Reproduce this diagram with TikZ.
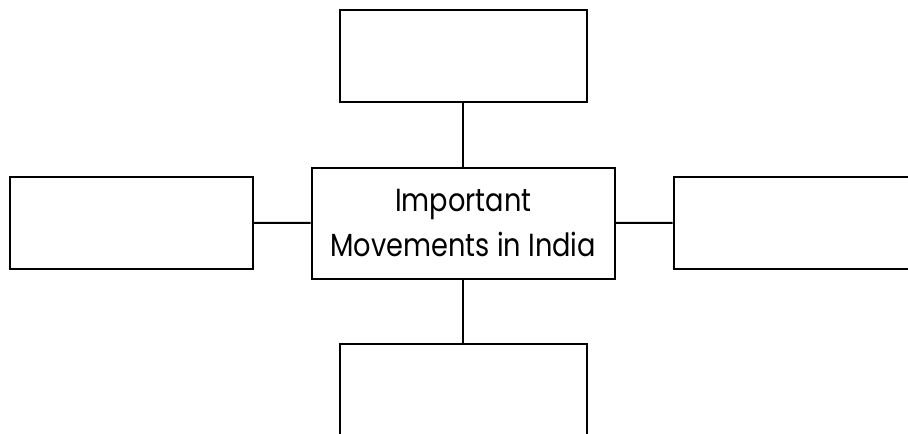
\documentclass[tikz,border=0pt]{standalone}
\usepackage{fontspec}
\setmainfont{Poppins}[FakeStretch=0.85]
\usepackage{tikz}
\usetikzlibrary{calc,positioning}
\tikzstyle{topic} = [draw,line width=1pt,fill=white,minimum width=121.5pt,minimum height=46pt,inner sep=0pt]
\tikzstyle{centre} = [draw,line width=1pt,fill=white,minimum width=151.7pt,minimum height=55.5pt,inner sep=0pt,align=center,font=\fontsize{16}{22.5}\selectfont]
\tikzstyle{link} = [line width=1pt]

\begin{document}
\begin{tikzpicture}[x=0.5pt,y=-0.5pt]
			      \useasboundingbox (0,0) rectangle (908,433);
			      \node (main)[centre] at (463.3,223) {Important\\Movements in India};
			      \node (up)[topic,minimum width=123.3pt,minimum height=45.8pt] at (463.3,56.2) {};
			      \node (left)[topic] at (131.5,222.8) {};
			      \node (right)[topic] at (795,222.8) {};
			      \node (down)[topic,minimum width=123.3pt] at (463.3,390) {};

			      \draw[link] (main) -- (up);
			      \draw[link] (main) -- (down);
			      \draw[link] (main) -- (left);
			      \draw[link] (main) -- (right);
		      \end{tikzpicture}
\end{document}
